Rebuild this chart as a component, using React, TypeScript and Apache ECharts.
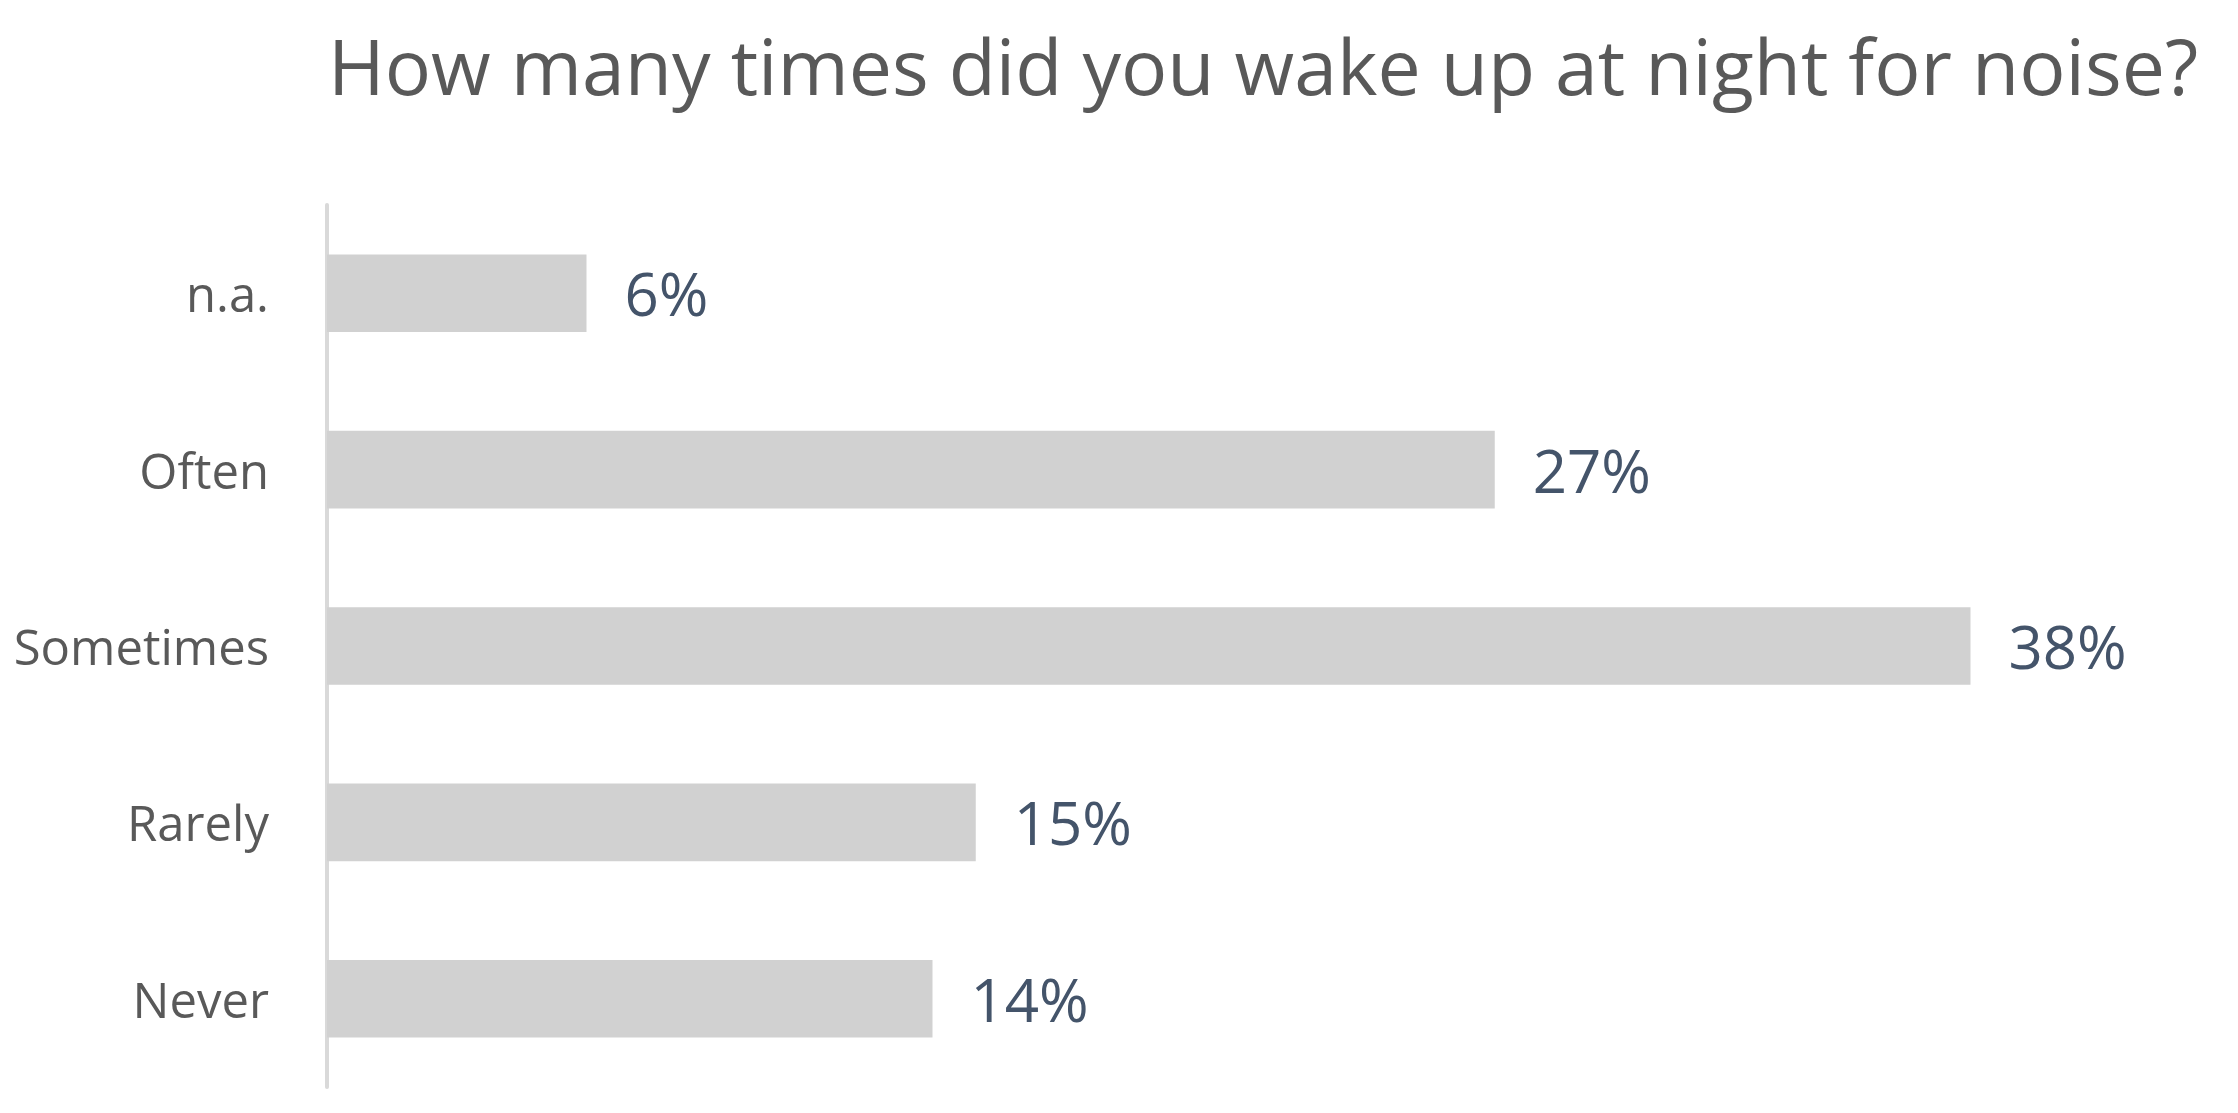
import React, { useEffect, useRef } from "react";
import * as echarts from "echarts";

const titleText = "How many times did you wake up at night for noise?";
const categories = ["n.a.", "Often", "Sometimes", "Rarely", "Never"];
const values = [6, 27, 38, 15, 14];

export default function App() {
  const ref = useRef<HTMLDivElement>(null);
  useEffect(() => {
    if (!ref.current) return;
    const chart = echarts.init(ref.current, undefined, { renderer: "svg" });
    chart.setOption({
      animation: false,
      backgroundColor: "#ffffff",
      title: {
        text: titleText,
        left: 315,
        top: 14,
        textStyle: {
          fontFamily: "Open Sans",
          fontSize: 77,
          fontWeight: "normal",
          color: "#595959",
        },
      },
      grid: { left: 319, top: 197, height: 882, width: 1730, containLabel: false },
      xAxis: {
        type: "value",
        min: 0,
        max: 40,
        show: false,
      },
      yAxis: {
        type: "category",
        data: categories,
        inverse: true,
        axisLine: { show: true, lineStyle: { color: "#d9d9d9", width: 4 } },
        axisTick: { show: false },
        axisLabel: {
          fontFamily: "Open Sans",
          fontSize: 49,
          color: "#595959",
          margin: 58,
        },
      },
      series: [
        {
          type: "bar",
          data: values,
          barCategoryGap: "56%",
          itemStyle: { color: "#d1d1d1" },
          label: {
            show: true,
            position: "right",
            distance: 38,
            formatter: "{c}%",
            fontFamily: "Open Sans",
            fontSize: 60,
            color: "#44546a",
          },
        },
      ],
    });
    return () => chart.dispose();
  }, []);
  return <div ref={ref} style={{ width: 2222, height: 1097 }} />;
}
